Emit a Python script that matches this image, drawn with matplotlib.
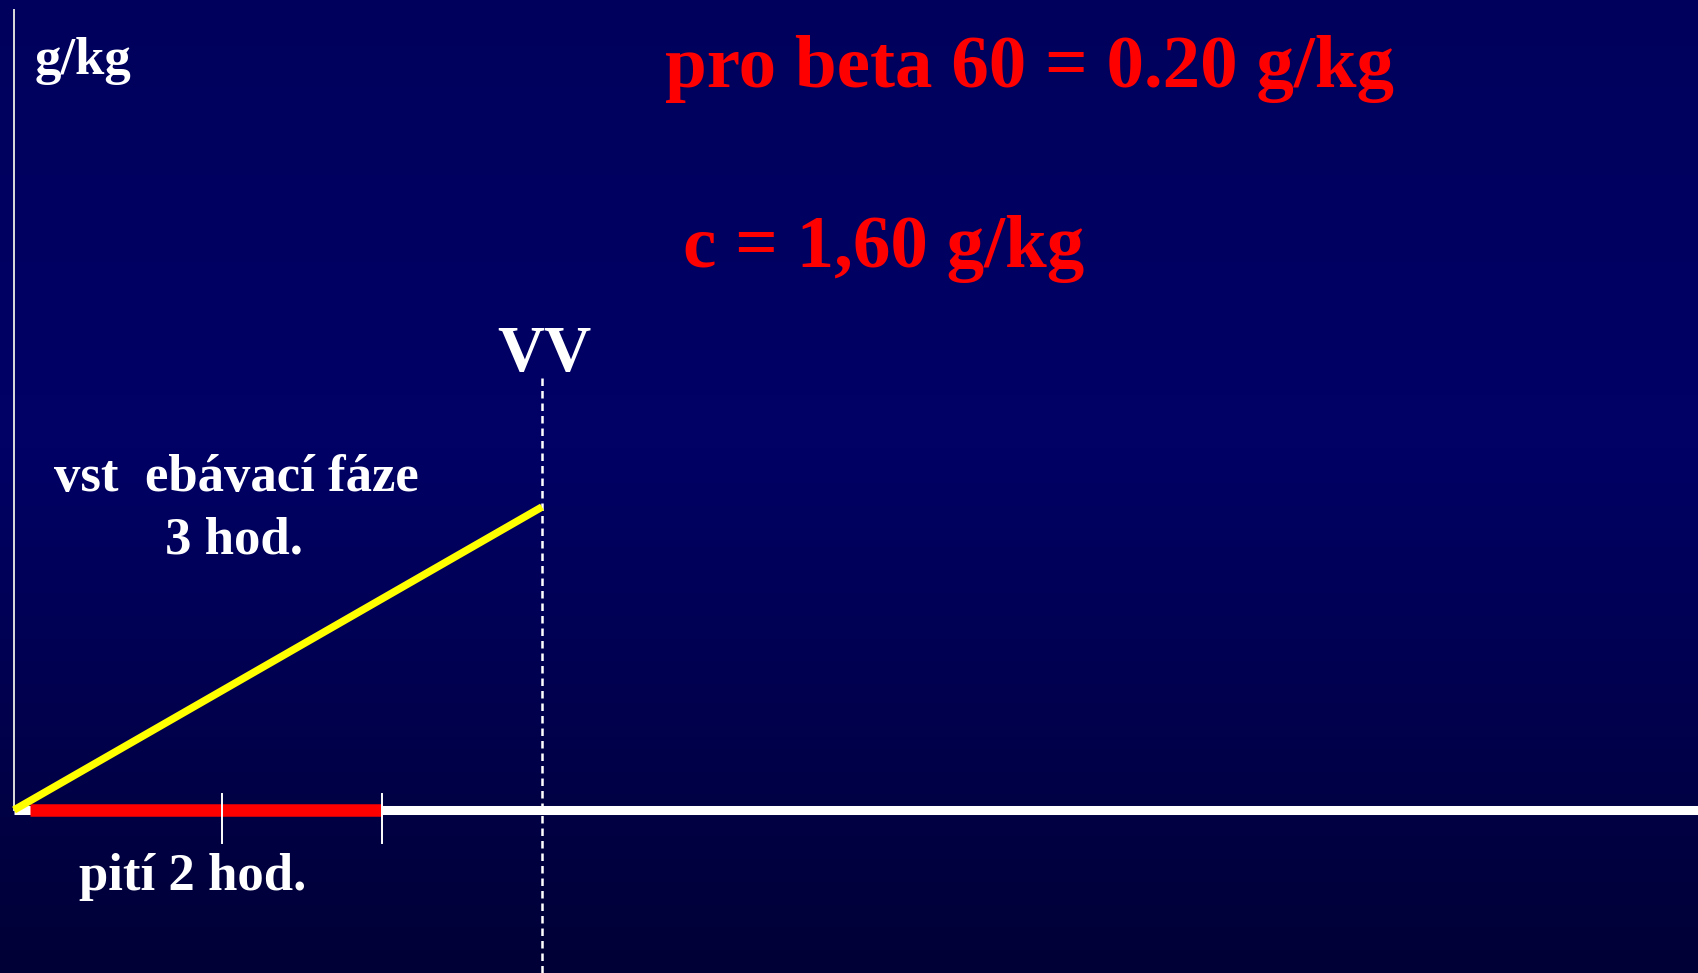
import numpy as np
import matplotlib.pyplot as plt
from matplotlib.colors import LinearSegmentedColormap

# data (hours on x, g/kg on y)
absorb_hours = [0.0, 3.0]        # vstřebávací fáze 3 hod.
absorb_level = [0.0, 1.60]       # c = 1,60 g/kg
drink_hours = [0.09, 2.09]       # pití 2 hod.
tick_hours = [1.18, 2.09]
vv_hour = 3.0

title_1 = "pro beta 60 = 0.20 g/kg"
title_2 = "c = 1,60 g/kg"
y_label = "g/kg"
absorb_label = "vst  ebávací fáze\n3 hod."
drink_label = "pití 2 hod."

W, H = 1698, 973
px_x = 176.0    # pixels per hour
px_y = 189.4    # pixels per g/kg
x0, y0 = 14, 810  # origin in pixels (from top-left)

fig = plt.figure(figsize=(W / 100, H / 100), dpi=100)
ax = fig.add_axes([0, 0, 1, 1])
xmin, xmax = -x0 / px_x, (W - x0) / px_x
ymin, ymax = -(H - y0) / px_y, y0 / px_y
ax.set_xlim(xmin, xmax)
ax.set_ylim(ymin, ymax)
ax.axis("off")

# background gradient
cmap = LinearSegmentedColormap.from_list(
    "bg", [(0.0, "#000036"), (0.55, "#000066"), (1.0, "#00005c")])
grad = np.linspace(0, 1, 256).reshape(-1, 1)
ax.imshow(grad, extent=[xmin, xmax, ymin, ymax], origin="lower",
          aspect="auto", cmap=cmap, zorder=0)

font = ["Liberation Serif", "DejaVu Serif"]

# axes
ax.plot([0, 0], [0, (y0 - 10) / px_y], color="#dddddd", lw=1.4, zorder=2)
ax.plot([0, xmax], [0, 0], color="white", lw=6.5, solid_capstyle="butt", zorder=2)
ax.plot(drink_hours, [0, 0], color="#ff0000", lw=9.0, solid_capstyle="butt", zorder=3)
for t in tick_hours:
    ax.plot([t, t], [16 / px_y, -33 / px_y], color="white", lw=1.4, zorder=4)

# absorption line
ax.plot(absorb_hours, absorb_level, color="#ffff00", lw=5.4,
        solid_capstyle="butt", zorder=4)

# VV dashed line
ax.plot([vv_hour, vv_hour], [(y0 - 378) / px_y, ymin], color="white", lw=1.8,
        linestyle=(0, (3.0, 2.0)), zorder=3)


def px(x, y):
    return (x - x0) / px_x, (y0 - y) / px_y


ax.text(*px(35, 74), y_label, color="white", fontsize=38, fontweight="bold",
        family=font, ha="left", va="baseline")
ax.text(*px(1030, 87), title_1, color="#ff0000", fontsize=54, fontweight="bold",
        family=font, ha="center", va="baseline")
ax.text(*px(884, 267), title_2, color="#ff0000", fontsize=54, fontweight="bold",
        family=font, ha="center", va="baseline")
ax.text(*px(544, 371), "VV", color="white", fontsize=47, fontweight="bold",
        family=font, ha="center", va="baseline")
ax.text(*px(236, 491), absorb_label.split("\n")[0], color="white", fontsize=38,
        fontweight="bold", family=font, ha="center", va="baseline")
ax.text(*px(234, 554), absorb_label.split("\n")[1], color="white", fontsize=38,
        fontweight="bold", family=font, ha="center", va="baseline")
ax.text(*px(193, 890), drink_label, color="white", fontsize=38, fontweight="bold",
        family=font, ha="center", va="baseline")

fig.savefig("out.png", dpi=100)
